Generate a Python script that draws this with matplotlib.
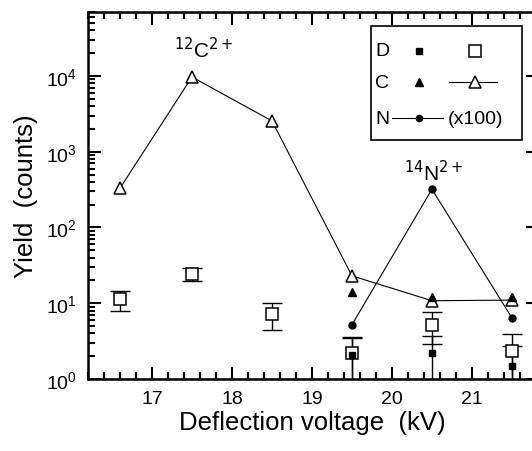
import numpy as np
import matplotlib
matplotlib.use("Agg")
import matplotlib.pyplot as plt
from matplotlib.ticker import LogLocator, MultipleLocator, NullFormatter

plt.rcParams['font.family'] = ['Liberation Sans', 'DejaVu Sans']

# deflection voltage (kV)
volt = [16.6, 17.5, 18.5, 19.5, 20.5, 21.5]
volt_hi = [19.5, 20.5, 21.5]

# C, open triangles with line
c_open = [330, 9700, 2550, 23, 10.8, 11]
# C, filled triangles
c_fill = [14, 12, 12.2]
# N (x100), filled circles with line
n_fill = [5.2, 320, 6.4]

# D, open squares with error bars
d_open = [11.4, 24.3, 7.2, 2.18, 5.2, 2.32]
d_open_lo = [7.8, 19.5, 4.5, 0.5, 2.87, 0.5]
d_open_hi = [14.6, 29.2, 10.0, 3.6, 7.6, 3.9]
# D, filled squares with error bars
d_fill = [2.1, 2.18, 1.5]
d_fill_lo = [0.5, 0.5, 0.5]
d_fill_hi = [3.45, 3.7, 2.75]

fig = plt.figure(figsize=(5.32, 4.52), dpi=100)
# axes run slightly past the right edge, so the right spine is cut off
ax = fig.add_axes([0.1654, 0.1593, 0.845, 0.812])

d_open = np.array(d_open)
d_fill = np.array(d_fill)
ax.errorbar(volt, d_open,
            yerr=[d_open - np.array(d_open_lo), np.array(d_open_hi) - d_open],
            fmt='none', ecolor='black', elinewidth=1, capsize=7, capthick=1)
ax.errorbar(volt_hi, d_fill,
            yerr=[d_fill - np.array(d_fill_lo), np.array(d_fill_hi) - d_fill],
            fmt='none', ecolor='black', elinewidth=1, capsize=7, capthick=1)

ax.plot(volt, c_open, color='black', lw=0.8, marker='^', ms=9,
        mfc='white', mec='black', mew=1.1)
ax.plot(volt_hi, c_fill, ls='none', marker='^', ms=6, color='black')
ax.plot(volt_hi, n_fill, color='black', lw=0.8, marker='o', ms=5)
ax.plot(volt, d_open, ls='none', marker='s', ms=8, mfc='white',
        mec='black', mew=1.1)
ax.plot(volt_hi, d_fill, ls='none', marker='s', ms=5, color='black')

ax.set_yscale('log')
ax.set_xlim(16.2, 21.82)
ax.set_ylim(1, 7e4)

ax.xaxis.set_major_locator(MultipleLocator(1))
ax.xaxis.set_minor_locator(MultipleLocator(0.2))
ax.yaxis.set_major_locator(LogLocator(base=10, numticks=10))
ax.yaxis.set_minor_locator(LogLocator(base=10, subs=np.arange(2, 10), numticks=10))
ax.yaxis.set_minor_formatter(NullFormatter())

ax.tick_params(which='both', direction='in', top=True, right=True,
               width=1.5, labelsize=14)
ax.tick_params(which='major', length=9, pad=8)
ax.tick_params(which='minor', length=5)
ax.tick_params(axis='y', which='minor', right=False)
for s in ax.spines.values():
    s.set_linewidth(1.8)

ax.set_xlabel('Deflection voltage  (kV)', fontsize=18.5, labelpad=2)
ax.set_ylabel('Yield  (counts)', fontsize=18.5, labelpad=6)

ax.text(17.65, 2.3e4, r'$^{12}$C$^{2+}$', fontsize=15, ha='center', va='center')
ax.text(20.52, 550, r'$^{14}$N$^{2+}$', fontsize=15, ha='center', va='center')

# hand-made legend box
tr = ax.transAxes
ax.add_patch(plt.Rectangle((0.630, 0.651), 0.335, 0.311, transform=tr,
                           fill=False, lw=1.2, color='black'))
for lab, yy in [('D', 0.894), ('C', 0.809), ('N', 0.711)]:
    ax.text(0.639, yy, lab, transform=tr, fontsize=14, va='center')
ax.plot([0.737], [0.894], 's', ms=4.5, color='black', transform=tr)
ax.plot([0.860], [0.894], 's', ms=8, mfc='white', mec='black', mew=1.1, transform=tr)
ax.plot([0.737], [0.809], '^', ms=5.5, color='black', transform=tr)
ax.plot([0.802, 0.910], [0.809, 0.809], color='black', lw=0.8, transform=tr)
ax.plot([0.860], [0.809], '^', ms=9, mfc='white', mec='black', mew=1.1, transform=tr)
ax.plot([0.677, 0.790], [0.711, 0.711], color='black', lw=0.8, transform=tr)
ax.plot([0.737], [0.711], 'o', ms=4.5, color='black', transform=tr)
ax.text(0.800, 0.711, '(x100)', transform=tr, fontsize=14, va='center')

fig.savefig('out.png', dpi=100)
